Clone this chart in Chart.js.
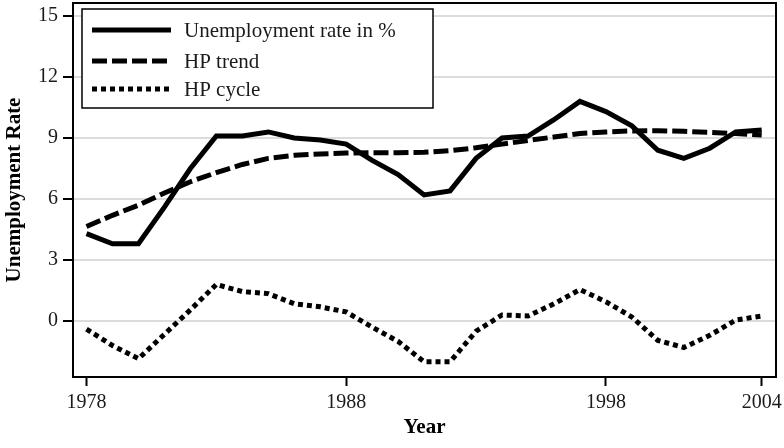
<!DOCTYPE html>
<html>
<head>
<meta charset="utf-8">
<script src="https://cdn.jsdelivr.net/npm/chart.js@4/dist/chart.umd.min.js"></script>
<style>
html,body{margin:0;padding:0;background:#fff;}
#wrap{width:784px;height:448px;position:relative;}
</style>
</head>
<body>
<div id="wrap"><canvas id="c" width="784" height="448"></canvas></div>
<script>
// ---- data ----
const years = [1978,1979,1980,1981,1982,1983,1984,1985,1986,1987,1988,1989,1990,1991,1992,1993,1994,1995,1996,1997,1998,1999,2000,2001,2002,2003,2004];
const unemploymentRate = [4.3,3.8,3.8,5.6,7.5,9.1,9.1,9.3,9.0,8.9,8.7,7.9,7.2,6.2,6.4,8.0,9.0,9.1,9.9,10.8,10.3,9.6,8.4,8.0,8.5,9.3,9.4];
const hpTrend = [4.65,5.2,5.7,6.3,6.85,7.3,7.7,8.0,8.15,8.22,8.26,8.28,8.28,8.3,8.38,8.52,8.7,8.88,9.05,9.22,9.3,9.35,9.36,9.33,9.28,9.22,9.15];
const hpCycle = [-0.4,-1.2,-1.85,-0.65,0.55,1.8,1.45,1.35,0.85,0.7,0.45,-0.3,-1.0,-2.0,-2.0,-0.5,0.3,0.25,0.85,1.55,0.95,0.2,-0.95,-1.3,-0.7,0.05,0.25];
const seriesLabels = ["Unemployment rate in %","HP trend","HP cycle"];
const xTickValues = [1978,1988,1998,2004];
const yTickValues = [0,3,6,9,12,15];

const toXY = arr => years.map((yr,i)=>({x:yr,y:arr[i]}));
const FONT = "'Liberation Serif','DejaVu Serif',serif";

const framePlugin = {
  id:'frame',
  afterDatasetsDraw(chart){
    const {ctx, chartArea:a} = chart;
    ctx.save();
    ctx.strokeStyle='#000';
    ctx.lineWidth=2;
    ctx.strokeRect(a.left, a.top, a.right-a.left, a.bottom-a.top);
    ctx.restore();
  }
};

const legendPlugin = {
  id:'boxLegend',
  afterDraw(chart){
    const ctx = chart.ctx;
    ctx.save();
    const bx=82, by=9, bw=351, bh=99;
    ctx.fillStyle='#fff';
    ctx.fillRect(bx,by,bw,bh);
    ctx.strokeStyle='#000';
    ctx.lineWidth=1.5;
    ctx.strokeRect(bx,by,bw,bh);
    const rows=[30,61,89];
    chart.data.datasets.forEach((ds,i)=>{
      const y=rows[i];
      ctx.beginPath();
      ctx.setLineDash(ds.borderDash||[]);
      ctx.lineWidth=ds.borderWidth;
      ctx.strokeStyle=ds.borderColor;
      ctx.moveTo(92,y); ctx.lineTo(171,y);
      ctx.stroke();
      ctx.setLineDash([]);
      ctx.fillStyle='#1a1a1a';
      ctx.font="21px "+FONT;
      ctx.textAlign='left';
      ctx.textBaseline='middle';
      ctx.fillText(ds.label,184,y+1);
    });
    ctx.restore();
  }
};

new Chart(document.getElementById('c'),{
  type:'line',
  data:{
    datasets:[
      {label:seriesLabels[0],data:toXY(unemploymentRate),borderColor:'#000',borderWidth:5,borderDash:[],pointRadius:0,tension:0,fill:false},
      {label:seriesLabels[1],data:toXY(hpTrend),borderColor:'#000',borderWidth:5,borderDash:[15,5],pointRadius:0,tension:0,fill:false},
      {label:seriesLabels[2],data:toXY(hpCycle),borderColor:'#000',borderWidth:5,borderDash:[5,4],pointRadius:0,tension:0,fill:false}
    ]
  },
  options:{
    responsive:false,
    animation:false,
    layout:{padding:{top:3,right:8,left:0,bottom:0}},
    plugins:{legend:{display:false},tooltip:{enabled:false}},
    scales:{
      x:{
        type:'linear',
        min:1977.48,max:2004.55,
        afterBuildTicks(s){ s.ticks = xTickValues.map(v=>({value:v})); },
        afterFit(s){ s.height=71; s.paddingLeft=0; s.paddingRight=0; },
        grid:{drawOnChartArea:false,drawTicks:true,tickLength:9,tickColor:'#000',tickWidth:2,color:'#000'},
        border:{display:false},
        ticks:{font:{family:FONT,size:20},color:'#1a1a1a',padding:5,maxRotation:0,autoSkip:false,callback:v=>String(v)},
        title:{display:true,text:'Year',font:{family:FONT,size:21,weight:'bold'},color:'#000',padding:{top:0,bottom:8}}
      },
      y:{
        type:'linear',
        min:-2.75,max:15.64,
        afterBuildTicks(s){ s.ticks = yTickValues.map(v=>({value:v})); },
        afterFit(s){ s.width=73; s.paddingTop=0; s.paddingBottom=0; },
        grid:{color:'#dcdcdc',lineWidth:2,drawTicks:true,tickLength:10,tickColor:'#000',tickWidth:2},
        border:{display:false},
        ticks:{font:{family:FONT,size:20},color:'#1a1a1a',padding:5,callback:v=>String(v)},
        title:{display:true,text:'Unemployment Rate',font:{family:FONT,size:21,weight:'bold'},color:'#000',padding:{top:2,bottom:0}}
      }
    }
  },
  plugins:[framePlugin,legendPlugin]
});
</script>
</body>
</html>
